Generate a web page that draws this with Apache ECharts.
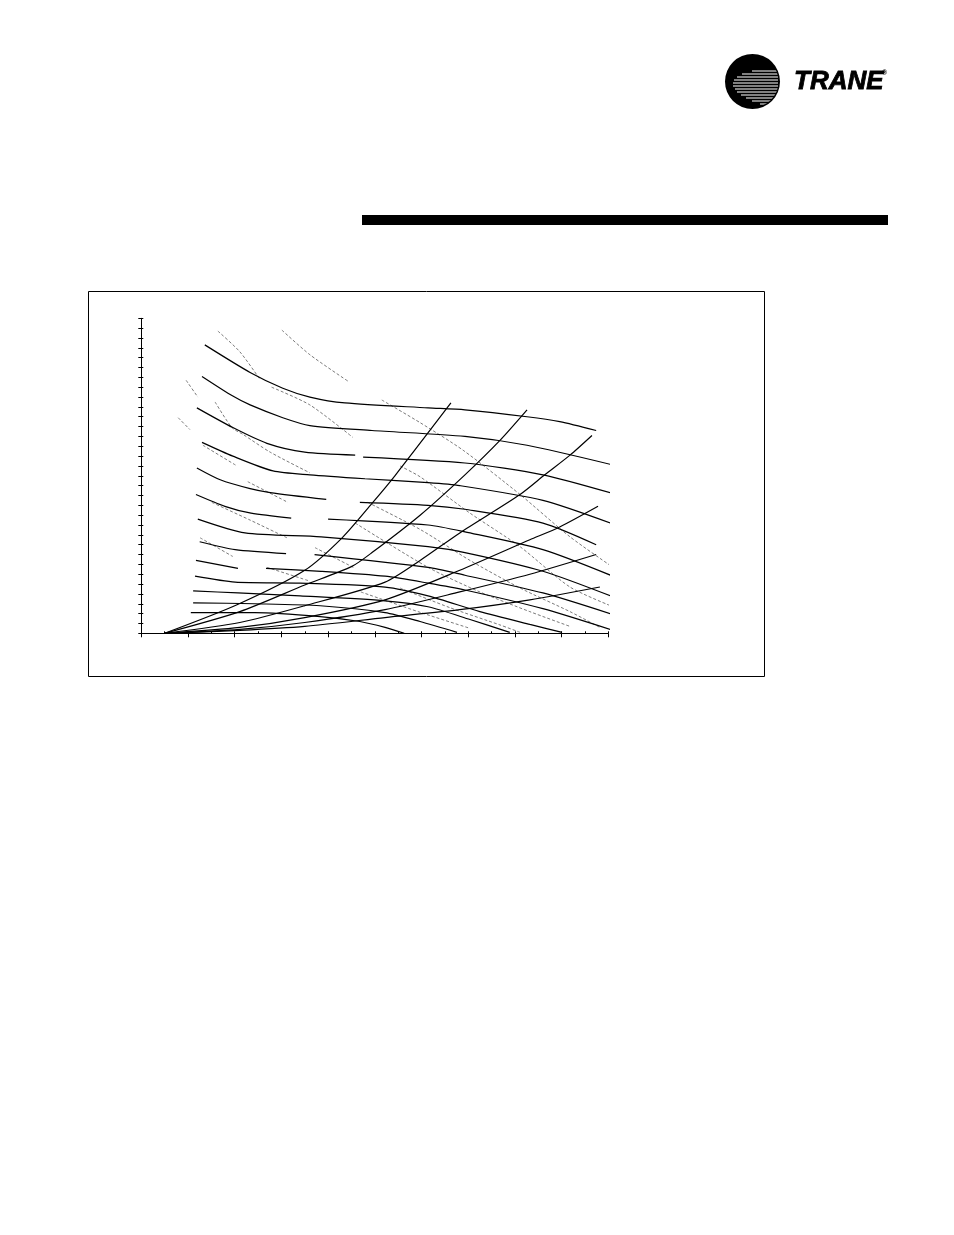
<!DOCTYPE html>
<html>
<head>
<meta charset="utf-8">
<script src="https://cdn.jsdelivr.net/npm/echarts@6/dist/echarts.min.js"></script>
<style>
html,body{margin:0;padding:0;background:#fff;}
#c{width:954px;height:1235px;}
</style>
</head>
<body>
<div id="c"></div>
<script>
// Axis ranges (the original prints no tick labels)
const xRange = [0, 100];
const yRange = [0, 32];

// Fan speed (RPM) curves - solid; null = gap in the line
const rpmA = [[13.6,29.3],[23.3,26.5],[30.3,24.9],[36.1,24.0],[43.6,23.4],[61.4,22.9],[69.3,22.7],[82.6,22.0],[89.6,21.5],[97.4,20.6]];
const rpmB = [[13.0,26.1],[19.6,24.1],[23.3,23.2],[30.3,21.9],[36.1,21.1],[49.4,20.6],[69.3,20.0],[82.6,19.1],[101.0,17.1]];
const rpmC = [[11.9,22.9],[19.6,20.9],[26.9,19.3],[35.0,18.4],[45.8,18.1],null,[47.5,17.9],[69.3,17.3],[86.0,16.1],[101.0,14.2]];
const rpmD = [[13.0,19.4],[19.6,18.0],[28.2,16.5],[36.1,16.1],[47.9,15.7],[61.4,15.3],[68.2,15.0],[86.0,13.5],[101.0,11.1]];
const rpmE = [[11.9,16.8],[16.9,15.6],[23.3,14.7],[27.6,14.3],[39.6,13.6],null,[46.8,13.3],[61.4,13.0],[69.3,12.6],[86.0,11.2],[97.4,9.0]];
const rpmF = [[11.7,14.1],[17.9,12.9],[23.5,12.2],[32.1,11.7],null,[40.0,11.6],[61.4,11.0],[69.3,10.3],[86.0,8.5],[101.0,5.8]];
const rpmG = [[12.1,11.6],[22.2,10.2],[38.5,9.8],[61.4,8.8],[69.3,8.2],[86.0,6.3],[101.0,3.7]];
const rpmH = [[12.5,9.3],[20.1,8.5],[31.0,8.1],null,[37.1,8.0],[61.4,6.7],[69.3,5.9],[86.0,4.1],[101.0,1.9]];
const rpmI = [[11.7,7.4],[20.7,6.6],null,[26.7,6.6],[38.5,6.3],[52.2,5.8],[61.4,5.1],[69.3,4.4],[86.0,2.5],[101.0,0.3]];
const rpmJ = [[11.5,5.8],[20.1,5.2],[34.0,5.1],[52.2,4.7],[61.4,3.8],[72.5,2.2],[83.2,0.9],[90.1,0.1]];
const rpmK = [[11.1,4.3],[20.7,4.1],[34.0,3.8],[52.2,3.3],[61.4,2.7],[70.4,1.4],[78.9,0.1]];
const rpmL = [[11.1,3.1],[24.3,3.0],[38.3,2.8],[52.2,2.1],[59.7,1.2],[67.6,0.1]];
const rpmM = [[10.6,2.1],[24.3,2.1],[38.3,1.7],[46.8,1.2],[52.2,0.6],[56.3,0.0]];

// System / outlet curves fanning out from the lower left - solid
const sysA = [[5.0,0],[20.5,2.9],[35.0,6.4],[43.0,9.7],[49.4,13.2],[54.3,16.0],[66.3,23.4]];
const sysB = [[5.0,0],[21.1,2.2],[35.0,4.9],[45.1,6.8],[49.4,8.2],[59.7,12.0],[69.3,16.1],[76.8,19.6],[82.6,22.7]];
const sysC = [[5.0,0],[21.1,1.1],[35.0,2.8],[52.2,5.2],[59.7,7.4],[68.2,10.2],[81.1,14.1],[86.4,16.1],[91.8,18.1],[96.5,20.1]];
const sysD = [[5.0,0],[21.1,0.6],[35.0,1.6],[52.2,3.4],[68.2,6.4],[83.2,9.5],[89.6,10.8],[97.8,12.9]];
const sysE = [[5.0,0],[21.1,0.4],[35.0,1.1],[52.2,2.4],[68.2,4.2],[83.2,6.0],[97.4,8.0]];
const sysF = [[5.0,0],[21.1,0.3],[35.0,0.7],[52.2,1.6],[68.2,2.4],[83.2,3.4],[98.2,4.7]];

// Brake horsepower curves - grey dotted
const bhpA = [[30.1,30.8],[36.1,28.3],[44.3,25.6],null,[51.5,23.7],[59.7,21.4],[68.9,18.6],[81.1,14.1],[91.8,9.8],[101.0,6.7]];
const bhpB = [[16.4,30.7],[21.1,28.6],[25.4,25.8],null,[27.9,25.0],[36.1,23.2],[45.3,19.9],null,[55.4,17.0],[59.7,15.9],[70.4,12.2],[81.1,8.8],[91.8,4.7],[101.0,2.7]];
const bhpC = [[9.6,25.7],[12.1,24.0],null,[15.8,23.5],[19.4,20.9],[21.8,20.2],[27.6,18.4],[36.1,16.3],null,[48.5,13.3],[59.9,10.5],[70.4,7.4],[81.1,4.6],[91.8,2.2],[98.2,0.6]];
const bhpD = [[7.9,21.9],[10.4,20.7],null,[13.2,19.1],[20.5,17.0],null,[22.8,15.4],[31.4,13.3],null,[45.8,11.2],[61.4,6.7],[72.5,4.2],[83.2,2.2],[91.8,0.7]];
const bhpE = [[15.1,13.3],[23.3,11.5],[31.2,9.7],null,[37.2,8.7],[45.8,6.6],null,[55.4,4.6],[66.1,2.6],[76.8,0.85],[81.1,0.1]];
const bhpF = [[12.6,9.7],[19.6,7.8],null,[26.9,6.7],[36.1,5.3],null,[47.0,4.2],[59.9,2.1],[70.4,0.5]];

const rpmCurves = [rpmA,rpmB,rpmC,rpmD,rpmE,rpmF,rpmG,rpmH,rpmI,rpmJ,rpmK,rpmL,rpmM];
const sysCurves = [sysA,sysB,sysC,sysD,sysE,sysF];
const bhpCurves = [bhpA,bhpB,bhpC,bhpD,bhpE,bhpF];

function toData(arr){ return arr.map(p => p === null ? ['-','-'] : p); }

const series = [];
bhpCurves.forEach((c,i) => series.push({
  type:'line', name:'bhp'+i, data:toData(c), showSymbol:false, smooth:0.25,
  connectNulls:false, clip:false, silent:true, z:1,
  lineStyle:{color:'#7a7a7a', width:1, type:[3,2]}
}));
rpmCurves.concat(sysCurves).forEach((c,i) => series.push({
  type:'line', name:'s'+i, data:toData(c), showSymbol:false, smooth:0.25,
  connectNulls:false, clip:false, silent:true, z:3,
  lineStyle:{color:'#000', width:1.2}
}));

// Decorative page elements (frame, header bar, logo)
const stripes = [];
const stripeRows = [[71,752],[74,742],[77,737],[80,734],[83,733],[86,733],[89,735],[92,737],[95,741],[98,746],[101,752],[104,760]];
stripeRows.forEach(r => stripes.push({
  type:'line', shape:{x1:r[1], y1:r[0], x2:778, y2:r[0]},
  style:{stroke:'#fff', lineWidth:1.2}, z:101
}));

const chart = echarts.init(document.getElementById('c'), null, {renderer:'canvas'});
chart.setOption({
  animation:false,
  backgroundColor:'#fff',
  grid:{left:141.3, top:318.3, width:467, height:315},
  xAxis:[
    {type:'value', min:xRange[0], max:xRange[1], interval:10,
     axisLine:{show:true, lineStyle:{color:'#000', width:1}},
     axisTick:{show:true, length:4, lineStyle:{color:'#000'}},
     axisLabel:{show:false}, splitLine:{show:false}},
    {type:'value', min:xRange[0], max:xRange[1], interval:5, position:'bottom',
     axisLine:{show:false},
     axisTick:{show:true, inside:true, length:2, lineStyle:{color:'#000'}},
     axisLabel:{show:false}, splitLine:{show:false}}
  ],
  yAxis:[
    {type:'value', min:yRange[0], max:yRange[1], interval:1,
     axisLine:{show:true, lineStyle:{color:'#000', width:1}},
     axisTick:{show:true, length:3, lineStyle:{color:'#000'}},
     axisLabel:{show:false}, splitLine:{show:false}},
    {type:'value', min:yRange[0], max:yRange[1], interval:1, position:'left',
     axisLine:{show:false},
     axisTick:{show:true, inside:true, length:2, lineStyle:{color:'#000'}},
     axisLabel:{show:false}, splitLine:{show:false}}
  ],
  series: series,
  graphic:[
    {type:'rect', shape:{x:88.5, y:291.5, width:676, height:385}, style:{fill:'none', stroke:'#000', lineWidth:1}, z:0, silent:true},
    {type:'rect', shape:{x:362, y:215, width:526, height:10}, style:{fill:'#000'}, silent:true},
    {type:'circle', shape:{cx:752.5, cy:81.5, r:27.5}, style:{fill:'#000'}, z:100, silent:true},
    {type:'group', children:stripes, silent:true,
     clipPath:{type:'circle', shape:{cx:752.5, cy:81.5, r:26}}},
    {type:'text', x:794, y:82, style:{text:'TRANE', fill:'#000', stroke:'#000', lineWidth:0.8, font:'italic 900 26px "Liberation Sans", Arial, sans-serif', verticalAlign:'middle', align:'left'}, silent:true},
    {type:'text', x:882, y:73, style:{text:'®', fill:'#000', font:'bold 7px "Liberation Sans", sans-serif', verticalAlign:'middle', align:'left'}, silent:true}
  ]
});
</script>
</body>
</html>
